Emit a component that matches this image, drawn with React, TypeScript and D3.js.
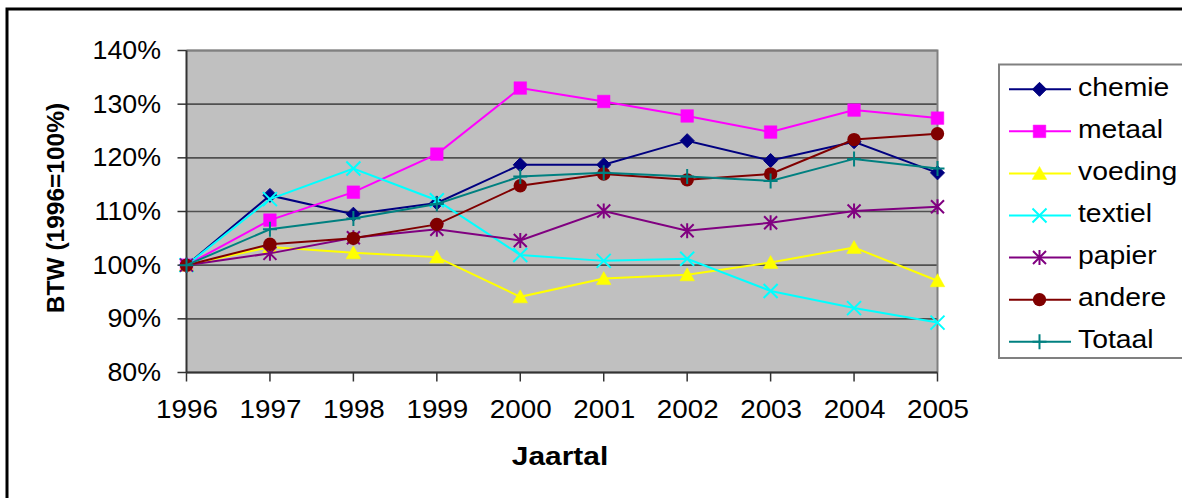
import React from "react";
import * as d3 from "d3";

const years = ["1996", "1997", "1998", "1999", "2000", "2001", "2002", "2003", "2004", "2005"];
const yTicks = [80, 90, 100, 110, 120, 130, 140];

const chemie = [100, 113.0, 109.5, 111.6, 118.7, 118.7, 123.2, 119.5, 123.0, 117.2];
const metaal = [100, 108.4, 113.6, 120.7, 133.0, 130.5, 127.8, 124.8, 128.9, 127.4];
const voeding = [100, 103.4, 102.3, 101.5, 94.1, 97.5, 98.2, 100.5, 103.3, 97.1];
const textiel = [100, 112.3, 118.0, 112.1, 101.9, 100.8, 101.2, 95.2, 92.0, 89.3];
const papier = [100, 102.2, 105.1, 106.7, 104.6, 110.1, 106.4, 107.9, 110.1, 110.9];
const andere = [100, 103.9, 105.0, 107.6, 114.8, 117.0, 115.9, 117.0, 123.4, 124.5];
const totaal = [100, 106.7, 108.7, 111.4, 116.5, 117.2, 116.5, 115.7, 119.8, 118.0];

const seriesNames = ["chemie", "metaal", "voeding", "textiel", "papier", "andere", "Totaal"];
const seriesValues = [chemie, metaal, voeding, textiel, papier, andere, totaal];
const seriesColors = ["#000080", "#FF00FF", "#FFFF00", "#00FFFF", "#800080", "#800000", "#008080"];
const seriesMarkers = ["diamond", "square", "triangle", "x", "star", "circle", "plus"];

const FONT = "'Liberation Sans', Arial, Helvetica, sans-serif";

function T({ x, y, sx = 1.07, anchor = "start", size = 26, bold = false, children }: any) {
  return (
    <text
      transform={`translate(${x},${y}) scale(${sx},1)`}
      textAnchor={anchor}
      fontSize={size}
      fontWeight={bold ? "bold" : "normal"}
      fill="#000"
    >
      {children}
    </text>
  );
}

function Marker({ kind, cx, cy, color }: { kind: string; cx: number; cy: number; color: string }) {
  const t = `translate(${cx},${cy})`;
  switch (kind) {
    case "diamond":
      return <path transform={t} d="M0,-7L7,0L0,7L-7,0Z" fill={color} stroke={color} strokeWidth={1} />;
    case "square":
      return <path transform={t} d="M-6.3,-6.3H6.3V6.3H-6.3Z" fill={color} stroke={color} strokeWidth={0.5} />;
    case "triangle":
      return <path transform={t} d="M0,-7L7.3,6L-7.3,6Z" fill={color} stroke={color} strokeWidth={0.5} />;
    case "circle":
      return <circle cx={cx} cy={cy} r={6.7} fill={color} />;
    case "x":
      return <path transform={t} d="M-7,-7L7,7M-7,7L7,-7" fill="none" stroke={color} strokeWidth={2} />;
    case "star":
      return <path transform={t} d="M-6.5,-6.5L6.5,6.5M-6.5,6.5L6.5,-6.5M0,-7.5V7.5" fill="none" stroke={color} strokeWidth={2} />;
    case "plus":
      return <path transform={t} d="M-7,0H7M0,-7.5V7.5" fill="none" stroke={color} strokeWidth={2} />;
    default:
      return null;
  }
}

export default function App() {
  const W = 1182, H = 498;
  const left = 186.5, right = 937.5, top = 50.5, bottom = 372.5;
  const x = d3.scalePoint<string>().domain(years).range([left, right]);
  const y = d3.scaleLinear().domain([80, 140]).range([bottom, top]);
  const line = d3.line<number>().x((_, i) => x(years[i]) as number).y((d) => y(d));

  const legX = 999, legTop = 64.5, legBottom = 358;
  const rowY = d3.scaleLinear().domain([0, 6]).range([89.3, 341.7]);

  return (
    <svg width={W} height={H} style={{ position: "absolute", left: 0, top: 0, background: "#fff" }} fontFamily={FONT}>
      <rect x={7} y={9} width={1400} height={800} fill="#fff" stroke="#000" strokeWidth={3} />
      {/* plot area */}
      <rect x={left} y={top} width={right - left} height={bottom - top} fill="#C0C0C0" />
      {yTicks.map((t) => (
        <line key={t} x1={left} x2={right} y1={y(t)} y2={y(t)} stroke="#505050" strokeWidth={1.6} />
      ))}
      <path d={`M${left},${top}H${right}V${bottom}`} fill="none" stroke="#808080" strokeWidth={2} />
      <line x1={left} x2={right} y1={bottom} y2={bottom} stroke="#333" strokeWidth={2} />
      <line x1={left} x2={left} y1={top} y2={bottom} stroke="#333" strokeWidth={2} />
      {yTicks.map((t) => (
        <g key={"yt" + t}>
          <line x1={left - 9} x2={left} y1={y(t)} y2={y(t)} stroke="#333" strokeWidth={1.5} />
          <T x={161} y={y(t) + 8.5} anchor="end" sx={1.03}>
            {t + "%"}
          </T>
        </g>
      ))}
      {years.map((yr) => (
        <g key={"xt" + yr}>
          <line x1={x(yr)} x2={x(yr)} y1={bottom} y2={bottom + 9} stroke="#333" strokeWidth={1.5} />
          <T x={(x(yr) as number) + 0.5} y={417.5} anchor="middle" sx={1.07}>
            {yr}
          </T>
        </g>
      ))}
      {/* series */}
      {seriesValues.map((vals, si) => (
        <g key={seriesNames[si]}>
          <path d={line(vals) as string} fill="none" stroke={seriesColors[si]} strokeWidth={2} />
          {vals.map((v, i) => (
            <Marker key={i} kind={seriesMarkers[si]} cx={x(years[i]) as number} cy={y(v)} color={seriesColors[si]} />
          ))}
        </g>
      ))}
      {/* axis titles */}
      <T x={560} y={465} anchor="middle" bold sx={1.15}>
        Jaartal
      </T>
      <text transform="translate(63.5,208) rotate(-90)" textAnchor="middle" fontSize={24.5} fontWeight="bold" fill="#000">
        BTW (1996=100%)
      </text>
      {/* legend */}
      <rect x={legX} y={legTop} width={400} height={legBottom - legTop} fill="#fff" stroke="#808080" strokeWidth={2} />
      {seriesNames.map((name, i) => (
        <g key={"lg" + name}>
          <line x1={1009} x2={1071} y1={rowY(i)} y2={rowY(i)} stroke={seriesColors[i]} strokeWidth={2} />
          <Marker kind={seriesMarkers[i]} cx={1039.5} cy={rowY(i)} color={seriesColors[i]} />
          <T x={1078} y={rowY(i) + 6.4} sx={1.09}>
            {name}
          </T>
        </g>
      ))}
    </svg>
  );
}
